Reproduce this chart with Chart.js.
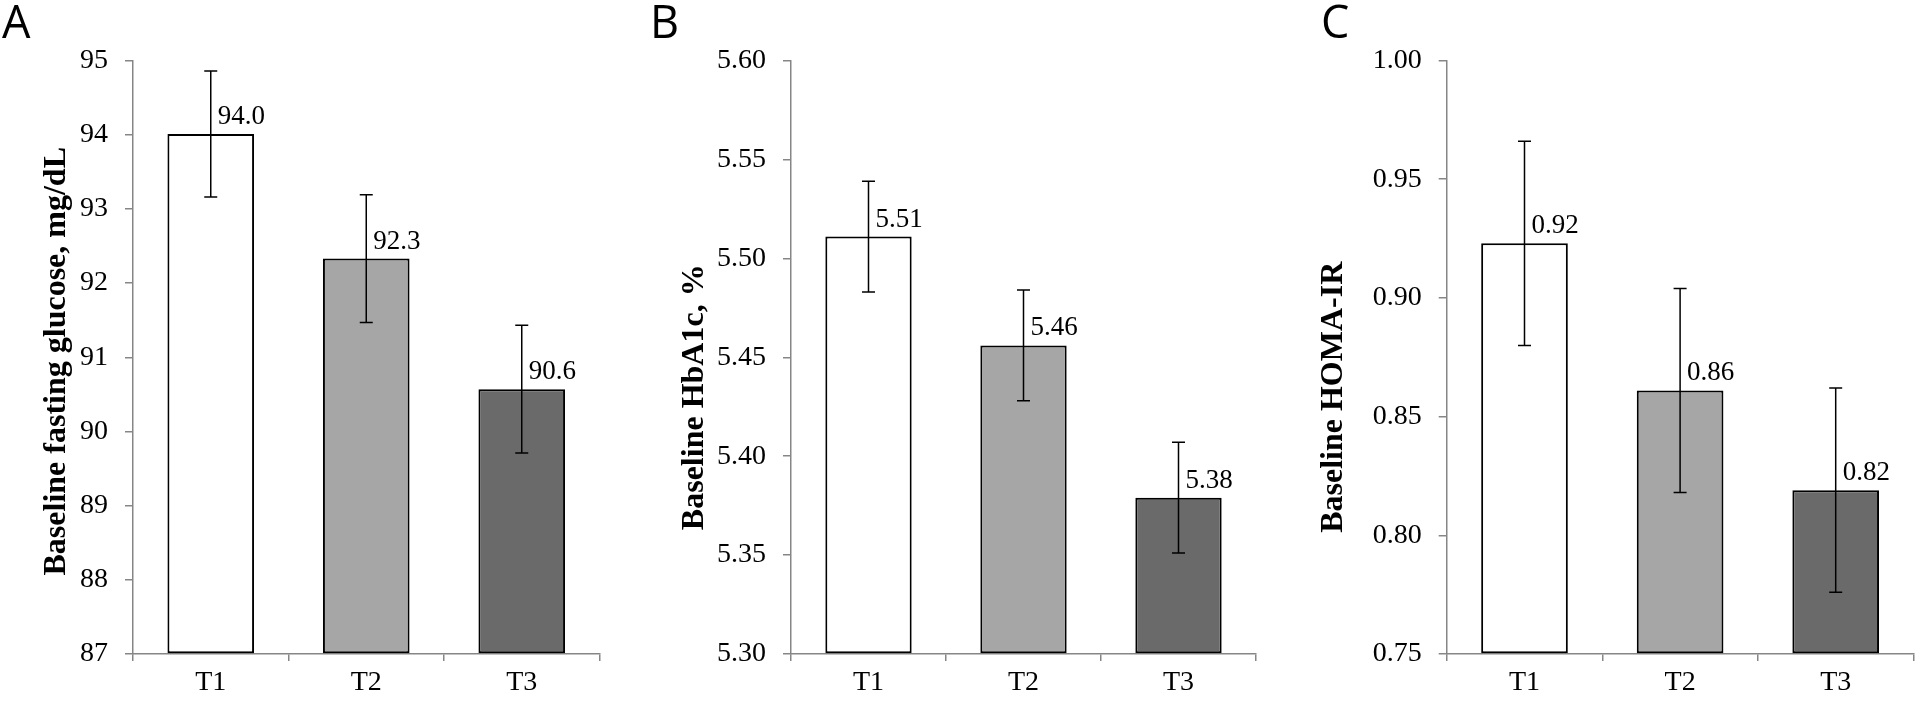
<!DOCTYPE html>
<html lang="en">
<head>
    <meta charset="UTF-8">
    <title>Baseline glucose, HbA1c and HOMA-IR by tertile</title>
    <script src="https://cdn.jsdelivr.net/npm/chart.js"></script>
    <style>
        body, html {
            margin: 0;
            padding: 0;
            background: #ffffff;
            width: 1920px;
            height: 702px;
            overflow: hidden;
        }
        .panel {
            position: absolute;
            top: 0;
            width: 640px;
            height: 702px;
        }
        .letter {
            position: absolute;
            top: -2px;
            font-family: "Open Sans", sans-serif;
            font-size: 45px;
            line-height: 1;
            color: #000;
        }
    </style>
</head>
<body>
    <div class="panel" style="left:0px"><canvas id="chartA" width="640" height="702"></canvas></div>
    <div class="panel" style="left:640px"><canvas id="chartB" width="640" height="702"></canvas></div>
    <div class="panel" style="left:1280px"><canvas id="chartC" width="640" height="702"></canvas></div>
    <div class="letter" style="left:2px">A</div>
    <div class="letter" style="left:650px">B</div>
    <div class="letter" style="left:1321px">C</div>

    <script>
    // tertiles
    const categories = ['T1', 'T2', 'T3'];
    const barColors = ['#ffffff', '#a6a6a6', '#6a6a6a'];

    // A - fasting glucose
    const glucoseMeans = [94.01, 92.33, 90.57];
    const glucoseErrors = [0.85, 0.86, 0.86];
    // B - HbA1c
    const hba1cMeans = [5.511, 5.456, 5.379];
    const hba1cErrors = [0.028, 0.028, 0.028];
    // C - HOMA-IR
    const homaMeans = [0.923, 0.861, 0.819];
    const homaErrors = [0.043, 0.043, 0.043];

    const serif = "'Liberation Serif', 'Times New Roman', serif";
    const axisGrey = '#868686';

    // error bars + value labels
    const errorBarPlugin = {
        id: 'errorBars',
        afterDatasetsDraw(chart, args, opts) {
            const ctx = chart.ctx;
            const y = chart.scales.y;
            const meta = chart.getDatasetMeta(0);
            const ds = chart.data.datasets[0];
            ctx.save();
            ctx.strokeStyle = '#000';
            ctx.lineWidth = 1.5;
            meta.data.forEach((bar, i) => {
                const v = ds.data[i];
                const e = opts.errors[i];
                const top = y.getPixelForValue(v + e);
                const bot = y.getPixelForValue(v - e);
                ctx.beginPath();
                ctx.moveTo(bar.x, top);
                ctx.lineTo(bar.x, bot);
                ctx.moveTo(bar.x - 6.5, top);
                ctx.lineTo(bar.x + 6.5, top);
                ctx.moveTo(bar.x - 6.5, bot);
                ctx.lineTo(bar.x + 6.5, bot);
                ctx.stroke();
            });
            ctx.fillStyle = '#000';
            ctx.font = '27px ' + serif;
            ctx.textAlign = 'left';
            ctx.textBaseline = 'alphabetic';
            meta.data.forEach((bar, i) => {
                ctx.fillText(ds.data[i].toFixed(opts.digits), bar.x + 7, bar.y - 10);
            });
            ctx.restore();
        }
    };

    function makeChart(id, means, errors, cfg) {
        new Chart(document.getElementById(id), {
            type: 'bar',
            data: {
                labels: categories,
                datasets: [{
                    data: means,
                    base: cfg.min,
                    backgroundColor: barColors,
                    borderColor: '#000',
                    borderWidth: 2,
                    borderSkipped: false,
                    barPercentage: 0.557,
                    categoryPercentage: 1.0
                }]
            },
            options: {
                responsive: false,
                animation: false,
                layout: { padding: { top: 60.5, right: cfg.right, left: 0, bottom: 0 } },
                plugins: {
                    legend: { display: false },
                    tooltip: { enabled: false },
                    errorBars: { errors: errors, digits: cfg.digits }
                },
                scales: {
                    x: {
                        afterFit: (s) => { s.height = 48; },
                        border: { color: axisGrey, width: 1.5 },
                        grid: { drawOnChartArea: false, color: axisGrey, lineWidth: 1.5, tickLength: 7, offset: true },
                        ticks: { color: '#000', font: { family: serif, size: 28 }, padding: 5 }
                    },
                    y: {
                        min: cfg.min,
                        max: cfg.max,
                        afterFit: (s) => { s.width = cfg.axisX; },
                        border: { color: axisGrey, width: 1.5 },
                        grid: { drawOnChartArea: false, color: axisGrey, lineWidth: 1.5, tickLength: 8 },
                        ticks: {
                            stepSize: cfg.step,
                            color: '#000',
                            font: { family: serif, size: 28 },
                            padding: 17,
                            callback: (v) => Number(v).toFixed(cfg.tickDigits)
                        },
                        title: {
                            display: true,
                            // trailing spaces push the centred title down the axis as in the original
                            text: cfg.title + ' '.repeat(cfg.titleShift),
                            color: '#000',
                            font: { family: serif, size: 32, weight: 'bold' },
                            padding: { top: cfg.titlePad, bottom: 0 }
                        }
                    }
                }
            },
            plugins: [errorBarPlugin]
        });
    }

    makeChart('chartA', glucoseMeans, glucoseErrors, {
        min: 87, max: 95, step: 1, tickDigits: 0, digits: 1,
        axisX: 133, right: 40.5, titlePad: 38, titleShift: 1,
        title: 'Baseline fasting glucose, mg/dL'
    });
    makeChart('chartB', hba1cMeans, hba1cErrors, {
        min: 5.30, max: 5.60, step: 0.05, tickDigits: 2, digits: 2,
        axisX: 151, right: 24, titlePad: 36, titleShift: 10,
        title: 'Baseline HbA1c, %'
    });
    makeChart('chartC', homaMeans, homaErrors, {
        min: 0.75, max: 1.00, step: 0.05, tickDigits: 2, digits: 2,
        axisX: 166.7, right: 6.5, titlePad: 35, titleShift: 10,
        title: 'Baseline HOMA-IR'
    });
    </script>
</body>
</html>
